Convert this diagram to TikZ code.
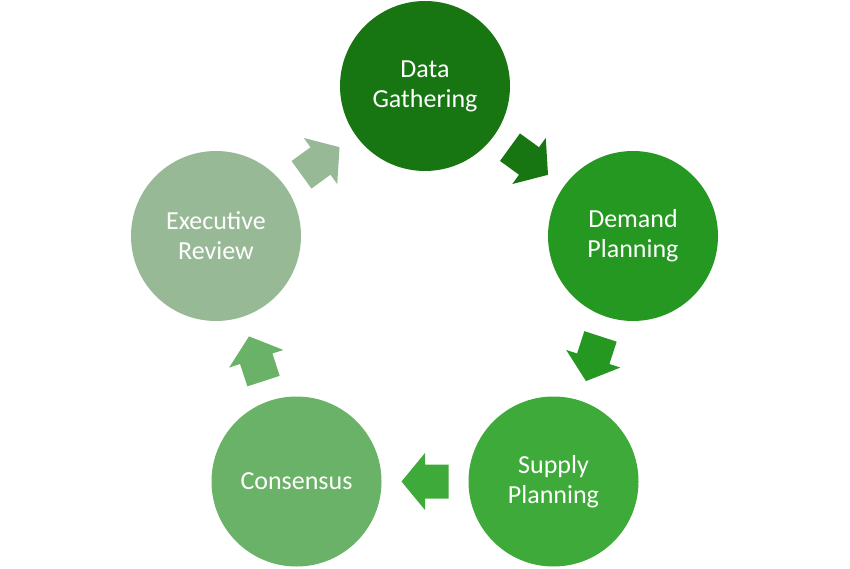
\documentclass[tikz,border=0pt]{standalone}
\usepackage{fontspec}
\setmainfont{Carlito}
\usetikzlibrary{calc}
\definecolor{cA}{RGB}{24,118,18}
\definecolor{cB}{RGB}{37,152,33}
\definecolor{cC}{RGB}{62,170,57}
\definecolor{cD}{RGB}{106,178,103}
\definecolor{cE}{RGB}{152,185,150}
\tikzset{
  stage/.style={circle, minimum size=170pt, inner sep=0pt, text=white, align=center,
    font=\fontsize{26}{30}\selectfont},
  blockarrow/.pic={\path[pic actions] (-23.5,-17) -- (0,-17) -- (0,-28.5) -- (23.5,0) -- (0,28.5) -- (0,17) -- (-23.5,17) -- cycle;}
}
\begin{document}
\begin{tikzpicture}[x=1pt,y=1pt]
\useasboundingbox (0,0) rectangle (850,568);
\node[stage, fill=cA] (dg) at (425,482) {Data\\Gathering};
\node[stage, fill=cB] (dp) at (633,332) {Demand\\Planning};
\node[stage, fill=cC] (sp) at (553.5,86.5) {Supply\\Planning};
\node[stage, fill=cD] (co) at (296.5,86.5) {Consensus};
\node[stage, fill=cE] (er) at (216,332) {Executive\\Review};
\pic[fill=cA, rotate=-36] at ($(dg)!0.5!(dp)$) {blockarrow};
\pic[fill=cB, rotate=-108] at ($(dp)!0.5!(sp)$) {blockarrow};
\pic[fill=cC, rotate=180] at ($(sp)!0.5!(co)$) {blockarrow};
\pic[fill=cD, rotate=108] at ($(co)!0.5!(er)$) {blockarrow};
\pic[fill=cE, rotate=36] at ($(er)!0.5!(dg)$) {blockarrow};
\end{tikzpicture}
\end{document}
